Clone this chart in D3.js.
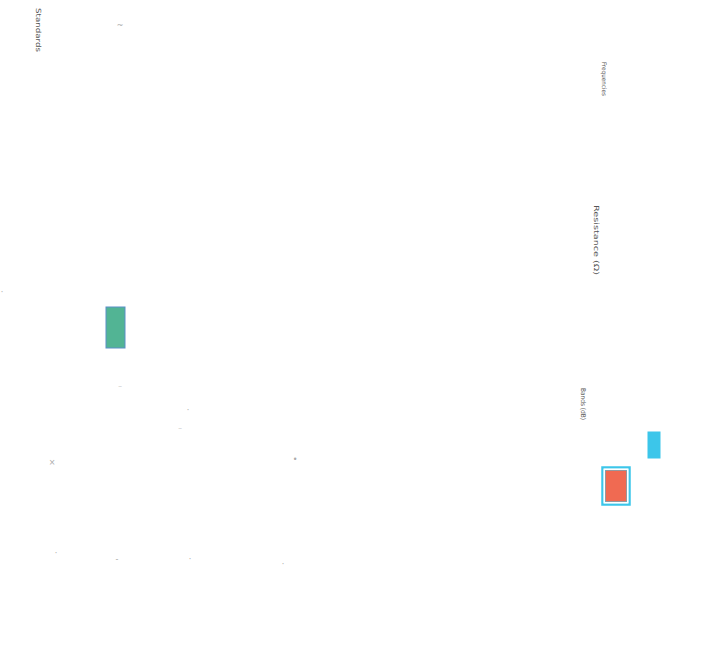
<!DOCTYPE html>
<html>
<head>
<meta charset="utf-8">
<script src="https://cdn.jsdelivr.net/npm/d3@7"></script>
<style>
	body { margin: 0; background: #fff; }
	svg { display: block; }
	.lbl { font-family: "DejaVu Sans", sans-serif; fill: #555; }
	.speck { font-family: "DejaVu Sans", sans-serif; fill: #aaa; }
</style>
</head>
<body>
<script>
// faded scan: rotated labels, three boxes and some stray marks
const labels = ['Standards', 'Frequencies', 'Resistance (Ω)', 'Bands (dB)'];
const labelX = [3.6, 60.2, 59.4, 58.1];
const labelY = [0.8, 6.2, 20.5, 38.8];

const boxNames = ['green', 'cyan', 'orange'];
const boxX = [10.6, 64.8, 60.5];
const boxY = [30.7, 43.2, 47.0];
const boxW = [1.9, 1.2, 2.2];
const boxH = [4.1, 2.6, 3.2];
const boxFill = ['#52b494', '#3cc6ea', '#f06a52'];
const boxStroke = ['#5a8fc8', '#3cc6ea', '#3cc6ea'];

const speckX = [12.0, 18.8, 18.0, 5.2, 29.5, 11.7, 19.0, 28.3, 5.6, 12.0, 0.2];
const speckY = [39.0, 41.3, 43.2, 46.5, 46.2, 56.2, 56.2, 56.7, 55.6, 2.8, 29.5];
const speckTxt = ['⁻', '·', '⁻', '×', '•', '-', '·', '·', '·', '~', '·'];

const width = 715;
const height = 651;
const labelSize = [7, 6.2, 7, 6.5];
const labelLen = [44, 34, 70, 32];

const svg = d3.select('body')
	.append('svg')
	.attr('width', width)
	.attr('height', height);

const x = d3.scaleLinear().domain([0, 71.5]).range([0, width]);
const y = d3.scaleLinear().domain([0, 65.1]).range([0, height]);

svg.selectAll('rect.box')
	.data(boxNames)
	.enter()
	.append('rect')
	.attr('class', 'box')
	.attr('x', (d, i) => x(boxX[i]))
	.attr('y', (d, i) => y(boxY[i]))
	.attr('width', (d, i) => x(boxW[i]))
	.attr('height', (d, i) => y(boxH[i]))
	.attr('fill', (d, i) => boxFill[i])
	.attr('stroke', (d, i) => boxStroke[i])
	.attr('stroke-width', 1);

// the orange box has a light outline around it
svg.append('rect')
	.attr('x', x(boxX[2]) - 2.5)
	.attr('y', y(boxY[2]) - 2.5)
	.attr('width', x(boxW[2]) + 5)
	.attr('height', y(boxH[2]) + 5)
	.attr('fill', 'none')
	.attr('stroke', '#3cc6ea')
	.attr('stroke-width', 2.5);
svg.append('rect')
	.attr('x', x(boxX[2]) - 0.75)
	.attr('y', y(boxY[2]) - 0.75)
	.attr('width', x(boxW[2]) + 1.5)
	.attr('height', y(boxH[2]) + 1.5)
	.attr('fill', 'none')
	.attr('stroke', '#fff')
	.attr('stroke-width', 1.5);

svg.selectAll('text.lbl')
	.data(labels)
	.enter()
	.append('text')
	.attr('class', 'lbl')
	.attr('font-size', (d, i) => labelSize[i])
	.attr('textLength', (d, i) => labelLen[i])
	.attr('lengthAdjust', 'spacingAndGlyphs')
	.attr('transform', (d, i) => 'translate(' + x(labelX[i]) + ' ' + y(labelY[i]) + ') rotate(90)')
	.text(d => d);

svg.selectAll('text.speck')
	.data(speckTxt)
	.enter()
	.append('text')
	.attr('class', 'speck')
	.attr('font-size', 8)
	.attr('text-anchor', 'middle')
	.attr('x', (d, i) => x(speckX[i]))
	.attr('y', (d, i) => y(speckY[i]))
	.text(d => d);
</script>
</body>
</html>
